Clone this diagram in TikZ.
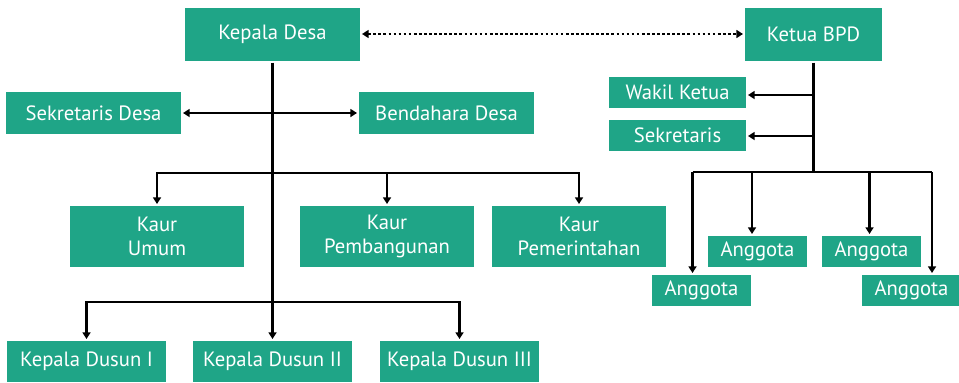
\documentclass[tikz,border=0pt]{standalone}
\usepackage{fontspec}
\setmainfont{PT Sans}
\usetikzlibrary{arrows.meta}
\definecolor{desagreen}{RGB}{31,165,135}
\tikzset{
  box/.style={fill=desagreen,text=white,inner sep=0pt,outer sep=1.5pt,align=center,
    font=\fontsize{15.5}{18}\selectfont},
  conn/.style={line width=2pt,black,-{Triangle[length=5pt,width=6pt]}},
  dotline/.style={line width=2pt,black,dash pattern=on 2pt off 1.8pt,
    {Triangle[length=5pt,width=6pt]}-{Triangle[length=5pt,width=6pt]}}
}
\begin{document}
\begin{tikzpicture}[x=0.75pt,y=0.75pt,yscale=-1,xscale=1]
\useasboundingbox (0,0) rectangle (959,382);

% Text Node
\node [box,minimum width=131.25pt,minimum height=39.75pt] (kades) at (272.5,34) {Kepala Desa};
% Text Node
\node [box,minimum width=102.75pt,minimum height=39.75pt] (ketua) at (813.5,34) {Ketua BPD};
% Text Node
\node [box,minimum width=131.25pt,minimum height=31.5pt] (sekdes) at (93.5,113) {Sekretaris Desa};
% Text Node
\node [box,minimum width=131.25pt,minimum height=31.5pt] (benda) at (446.5,113) {Bendahara Desa};
% Text Node
\node [box,minimum width=102.75pt,minimum height=23.25pt] (wakil) at (677.5,92) {Wakil Ketua};
% Text Node
\node [box,minimum width=102.75pt,minimum height=23.25pt] (sekbpd) at (677.5,135.5) {Sekretaris};
% Text Node
\node [box,minimum width=130.5pt,minimum height=45.75pt] (umum) at (157,236.5) {Kaur\\Umum};
% Text Node
\node [box,minimum width=130.5pt,minimum height=45.75pt] (bangun) at (387,236.5) {Kaur\\Pembangunan};
% Text Node
\node [box,minimum width=130.5pt,minimum height=45.75pt] (perintah) at (579,236.5) {Kaur\\Pemerintahan};
% Text Node
\node [box,minimum width=74.25pt,minimum height=23.25pt] (ang1) at (701.5,290.5) {Anggota};
% Text Node
\node [box,minimum width=74.25pt,minimum height=23.25pt] (ang2) at (757.5,251.5) {Anggota};
% Text Node
\node [box,minimum width=74.25pt,minimum height=23.25pt] (ang3) at (871.5,251.5) {Anggota};
% Text Node
\node [box,minimum width=74.25pt,minimum height=23.25pt] (ang4) at (911.5,290.5) {Anggota};
% Text Node
\node [box,minimum width=119.25pt,minimum height=30.75pt] (dusun1) at (86.5,361.5) {Kepala Dusun I};
% Text Node
\node [box,minimum width=119.25pt,minimum height=30.75pt] (dusun2) at (272.5,361.5) {Kepala Dusun II};
% Text Node
\node [box,minimum width=119.25pt,minimum height=30.75pt] (dusun3) at (459.5,361.5) {Kepala Dusun III};

\coordinate (kaurbar) at (272.5,173);
\coordinate (dusunbar) at (272.5,302);
\coordinate (bpdbar) at (813.5,172);
\coordinate (wakilhook) at (813.5,95);
\coordinate (sekhook) at (813.5,136);
\coordinate (angb1) at (692.5,172);
\coordinate (angb2) at (752,172);
\coordinate (angb3) at (869.5,172);
\coordinate (angb4) at (932,172);

%Straight Lines
\draw [conn] (kades) -- (dusun2);
\draw [dotline] (kades) -- (ketua);
\draw [conn,{Triangle[length=5pt,width=6pt]}-{Triangle[length=5pt,width=6pt]}] (sekdes) -- (benda);
\draw [conn] (kaurbar) -| (umum);
\draw [conn] (kaurbar) -| (bangun);
\draw [conn] (kaurbar) -| (perintah);
\draw [conn] (dusunbar) -| (dusun1);
\draw [conn] (dusunbar) -| (dusun3);

%Straight Lines
\draw [conn,-] (ketua) -- (bpdbar);
\draw [conn] (wakilhook) -- (wakilhook -| wakil.east);
\draw [conn] (sekhook) -- (sekhook -| sekbpd.east);
\draw [conn,-] (angb1) -- (angb4);
\draw [conn] (angb1) -- (angb1 |- ang1.north);
\draw [conn] (angb2) -- (angb2 |- ang2.north);
\draw [conn] (angb3) -- (angb3 |- ang3.north);
\draw [conn] (angb4) -- (angb4 |- ang4.north);

\end{tikzpicture}
\end{document}
